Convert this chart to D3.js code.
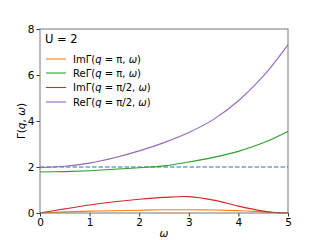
<!DOCTYPE html>
<html><head><meta charset="utf-8">
<script src="https://cdn.jsdelivr.net/npm/d3@7"></script>
<style>body{margin:0;background:#fff}svg{font-family:"DejaVu Sans",sans-serif}</style>
</head><body>
<svg id="c" width="320" height="240"></svg>
<script>
const omega = [0,0.5,1,1.5,2,2.5,3,3.5,4,4.5,4.75,5];
const imPi =   [0,0.05,0.08,0.1,0.12,0.14,0.14,0.13,0.1,0.05,0.02,0.02];
const rePi =   [1.78,1.8,1.84,1.9,1.97,2.05,2.22,2.42,2.68,3.05,3.28,3.55];
const imPi2 =  [0,0.18,0.35,0.49,0.6,0.68,0.71,0.56,0.3,0.08,0.01,0];
const rePi2 =  [1.97,2.03,2.17,2.4,2.7,3.06,3.5,4.07,4.88,5.95,6.6,7.32];
const xTicks = [0,1,2,3,4,5];
const yTicks = [0,2,4,6,8];
const refLine = 2;
const series = [
  {label:["Im","Γ(","q"," = π, ","ω",")"], color:"#ff7f0e", values:imPi},
  {label:["Re","Γ(","q"," = π, ","ω",")"], color:"#2ca02c", values:rePi},
  {label:["Im","Γ(","q"," = π/2, ","ω",")"], color:"#d62728", values:imPi2},
  {label:["Re","Γ(","q"," = π/2, ","ω",")"], color:"#9467bd", values:rePi2}
];
const svg = d3.select("#c");
const x = d3.scaleLinear().domain([0,5]).range([40,288]);
const y = d3.scaleLinear().domain([0,8]).range([213,29]);
const line = d3.line().x((d,i)=>x(omega[i])).y(d=>y(Math.max(0,d))).curve(d3.curveCatmullRom.alpha(0.5));

svg.append("line").attr("x1",x(0)).attr("x2",x(5)).attr("y1",y(refLine)).attr("y2",y(refLine))
  .attr("stroke","#1f77b4").attr("stroke-width",1.1).attr("stroke-dasharray","4.5,2");
series.forEach(s=>{
  svg.append("path").attr("d",line(s.values)).attr("fill","none").attr("stroke",s.color).attr("stroke-width",1.1);
});

const xa = svg.append("g").attr("transform",`translate(0,${y(0)})`)
  .call(d3.axisBottom(x).tickValues(xTicks).tickSize(3.5).tickPadding(2).tickFormat(d3.format("d")));
const ya = svg.append("g").attr("transform",`translate(${x(0)},0)`)
  .call(d3.axisLeft(y).tickValues(yTicks).tickSize(3.5).tickPadding(2).tickFormat(d3.format("d")));
[xa,ya].forEach(a=>{a.select(".domain").remove();a.selectAll("text").attr("font-size",10.5).attr("fill","#000").attr("font-family","DejaVu Sans");a.selectAll("line").attr("stroke","#333");});

svg.append("rect").attr("x",x(0)).attr("y",y(8)).attr("width",x(5)-x(0)).attr("height",y(0)-y(8))
  .attr("fill","none").attr("stroke","#777").attr("stroke-width",1);

svg.append("text").attr("x",164).attr("y",237).attr("text-anchor","middle").attr("font-size",10.5).attr("font-style","italic").text("ω");
const yl = svg.append("text").attr("transform","translate(25,121) rotate(-90)").attr("text-anchor","middle").attr("font-size",10.5);
yl.append("tspan").text("Γ(");yl.append("tspan").attr("font-style","italic").text("q");
yl.append("tspan").text(", ");yl.append("tspan").attr("font-style","italic").text("ω");yl.append("tspan").text(")");

const lg = svg.append("g");
lg.append("text").attr("x",45).attr("y",43).attr("font-size",11.5).text("U = 2");
const rows = [59,73,87.5,102];
series.forEach((s,i)=>{
  lg.append("line").attr("x1",46).attr("x2",66).attr("y1",rows[i]).attr("y2",rows[i]).attr("stroke",s.color).attr("stroke-width",1.1);
  const t = lg.append("text").attr("x",73).attr("y",rows[i]+3.6).attr("font-size",10);
  s.label.forEach((p,j)=>{const ts=t.append("tspan").text(p); if(j===2||j===4) ts.attr("font-style","italic");});
});
</script>
</body></html>
